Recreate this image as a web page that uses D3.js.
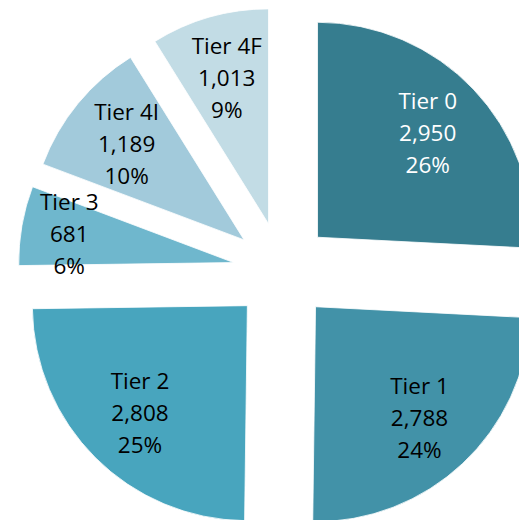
<!DOCTYPE html>
<html>
<head>
<meta charset="utf-8">
<script src="https://cdn.jsdelivr.net/npm/d3@7"></script>
<style>
    body { margin: 0; background: #fff; }
    text { font-family: 'Open Sans', 'Noto Sans', sans-serif; }
</style>
</head>
<body>
<div id="chart"></div>
<script>
// the data
const tiers = ['Tier 0', 'Tier 1', 'Tier 2', 'Tier 3', 'Tier 4I', 'Tier 4F']
const counts = [2950, 2788, 2808, 681, 1189, 1013]
const colours = ['#367D8F', '#4292A8', '#48A5BE', '#6FB7CD', '#A2CADB', '#C2DCE5']
const textColours = ['#fff', '#000', '#000', '#000', '#000', '#000']

// dimensions
const w = 519
const h = 520
const cx = 282
const cy = 271
const r = 215
const explode = 49
const labelR = 152

const total = d3.sum(counts)
const fmtNum = d3.format(',')
const fmtPct = d3.format('.0%')

const svg = d3.select('#chart')
    .append('svg')
    .attr('width', w)
    .attr('height', h)

const g = svg.append('g')
    .attr('transform', `translate(${cx},${cy})`)

const pie = d3.pie().sort(null).value((d, i) => counts[i])
const arcs = pie(tiers)

const arc = d3.arc().innerRadius(0).outerRadius(r)

// shift each slice outwards along its middle angle
const midOf = (d) => (d.startAngle + d.endAngle) / 2
const shift = (d, dist) => {
    const a = midOf(d)
    return [Math.sin(a) * dist, -Math.cos(a) * dist]
}

const slices = g.selectAll('g.slice')
    .data(arcs)
    .enter()
    .append('g')
    .attr('class', 'slice')
    .attr('transform', (d) => {
        const [x, y] = shift(d, explode)
        return `translate(${x},${y})`
    })

slices.append('path')
    .attr('d', arc)
    .attr('fill', (d, i) => colours[i])
    .attr('stroke', '#fff')
    .attr('stroke-width', 0.8)

// labels: narrow slices get pushed further out
const lineH = 32
slices.each(function (d, i) {
    const narrow = (d.endAngle - d.startAngle) < 0.4
    const [x, y] = shift(d, narrow ? labelR + 15 : labelR)
    const lines = [tiers[i], fmtNum(counts[i]), fmtPct(counts[i] / total)]
    d3.select(this).append('text')
        .attr('x', x)
        .attr('y', y)
        .attr('text-anchor', 'middle')
        .attr('font-size', 22.5)
        .attr('fill', textColours[i])
        .selectAll('tspan')
        .data(lines)
        .enter()
        .append('tspan')
        .attr('x', x)
        .attr('y', (l, j) => y + 8 + (j - 1) * lineH)
        .text((l) => l)
})
</script>
</body>
</html>
